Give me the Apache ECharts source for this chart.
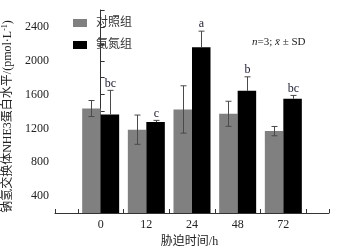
<!DOCTYPE html>
<html>
<head>
<meta charset="utf-8">
<script src="https://cdn.jsdelivr.net/npm/echarts@6/dist/echarts.min.js"></script>
<style>html,body{margin:0;padding:0;background:#fff}#c{width:348px;height:251px}</style>
</head>
<body>
<div id="c"></div>
<script>
const categories = ['0', '12', '24', '48', '72'];
const controlMean = [1435, 1185, 1424, 1373, 1168];
const controlSD = [95, 173, 280, 148, 55];
const ammoniaMean = [1365, 1275, 2160, 1644, 1550];
const ammoniaSD = [285, 20, 190, 166, 40];
const letters = ['bc', 'c', 'a', 'b', 'bc'];
const seriesNames = ['对照组', '氨氮组'];

const SERIF = "'Liberation Serif','Noto Sans CJK SC',serif";
const BW = 18.5;

const chart = echarts.init(document.getElementById('c'), null, {renderer: 'canvas'});

function errRenderer(offset, full, showLetter) {
  return function (params, api) {
    const x = api.value(0), m = api.value(1), sd = api.value(2);
    const t = api.coord([x, m + sd]);
    const b = full ? api.coord([x, m - sd]) : api.coord([x, m]);
    const cx = Math.round(t[0] + offset) + 0.5;
    const st = {stroke: '#4a4a4a', lineWidth: 1};
    const ch = [
      {type: 'line', shape: {x1: cx, y1: t[1], x2: cx, y2: b[1]}, style: st},
      {type: 'line', shape: {x1: cx - 3, y1: t[1], x2: cx + 3, y2: t[1]}, style: st}
    ];
    if (full) ch.push({type: 'line', shape: {x1: cx - 3, y1: b[1], x2: cx + 3, y2: b[1]}, style: st});
    if (showLetter) {
      ch.push({type: 'text', style: {text: letters[params.dataIndex], x: cx, y: t[1] - 1,
        align: 'center', verticalAlign: 'bottom', font: '12px ' + SERIF, fill: '#1c1c30'}});
    }
    return {type: 'group', children: ch};
  };
}

const option = {
  animation: false,
  grid: {left: 55, right: 19, top: 10, bottom: 38, containLabel: false, outerBoundsMode: 'none'},
  legend: {
    orient: 'vertical', left: 68, top: 12, itemWidth: 14, itemHeight: 8, itemGap: 10,
    data: seriesNames, icon: 'rect',
    textStyle: {fontFamily: SERIF, fontSize: 12, color: '#333', padding: [0, 0, 0, 4]}
  },
  title: {
    left: 252, top: 37, padding: 0,
    text: '{i|n}=3; {i|x\u0304} ± SD',
    textStyle: {fontFamily: SERIF, fontSize: 11, fontWeight: 'normal', color: '#222',
      rich: {i: {fontFamily: SERIF, fontSize: 11, fontStyle: 'italic', color: '#222'}}}
  },
  xAxis: [{
    type: 'value', min: -1, max: 5, interval: 1,
    axisLine: {lineStyle: {color: '#333'}},
    axisTick: {show: false, inside: true},
    minorTick: {show: true, splitNumber: 2, length: 4, lineStyle: {color: '#333'}},
    splitLine: {show: false}, minorSplitLine: {show: false},
    axisLabel: {formatter: v => (v >= 0 && v < categories.length) ? categories[v] : '',
      fontFamily: SERIF, fontSize: 12, color: '#222', margin: 6},
    name: '胁迫时间/h', nameLocation: 'middle', nameGap: 23,
    nameTextStyle: {fontFamily: SERIF, fontSize: 12, color: '#222', padding: [0, 5, 0, 0]}
  }, {
    type: 'value', min: -1, max: 5, interval: 6, position: 'bottom',
    axisLine: {show: false},
    axisTick: {show: true, inside: true, length: 4, lineStyle: {color: '#333'}},
    axisLabel: {show: false}, splitLine: {show: false}
  }],
  yAxis: {
    type: 'value', min: 200, max: 2600, interval: 200,
    axisLine: {show: true, lineStyle: {color: '#333'}},
    axisTick: {show: true, inside: true, length: 4, lineStyle: {color: '#333'}},
    splitLine: {show: false},
    axisLabel: {formatter: v => (v % 400 === 0 && v >= 400 && v <= 2400) ? String(v) : '',
      fontFamily: SERIF, fontSize: 12, color: '#222', margin: 6},
    name: '{a|钠氢交换体NHE3蛋白水平/(pmol·L}{s|-1}{a|)}', nameLocation: 'middle', nameGap: 36,
    nameTextStyle: {fontFamily: SERIF, fontSize: 12, color: '#222', padding: [0, 10, 0, 0],
      rich: {a: {fontFamily: SERIF, fontSize: 12, color: '#222', lineHeight: 14},
             s: {fontFamily: SERIF, fontSize: 8, color: '#222', verticalAlign: 'top'}}}
  },
  series: [
    {name: seriesNames[0], type: 'bar', barWidth: BW, barGap: '0%', itemStyle: {color: '#808080'},
      data: controlMean.map((v, i) => [i, v]), z: 2},
    {name: seriesNames[1], type: 'bar', barWidth: BW, barGap: '0%', itemStyle: {color: '#000'},
      data: ammoniaMean.map((v, i) => [i, v]), z: 2},
    {type: 'custom', renderItem: errRenderer(-BW / 2, true, false), z: 5,
      data: controlMean.map((v, i) => [i, v, controlSD[i]])},
    {type: 'custom', renderItem: errRenderer(BW / 2, false, true), z: 5,
      data: ammoniaMean.map((v, i) => [i, v, ammoniaSD[i]])}
  ]
};
chart.setOption(option);
</script>
</body>
</html>
